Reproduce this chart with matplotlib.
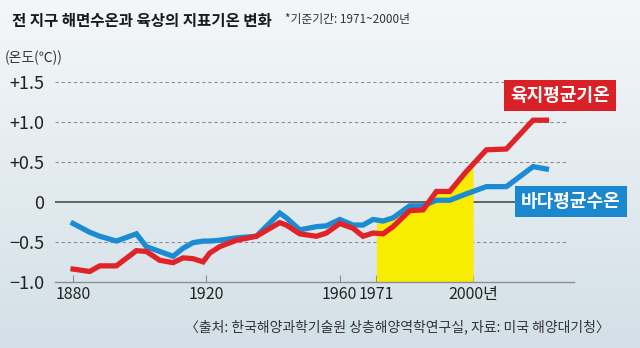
import matplotlib.pyplot as plt
import numpy as np
from matplotlib.colors import LinearSegmentedColormap

plt.rcParams['font.family'] = ['Noto Sans CJK KR', 'DejaVu Sans']

# Data (anomaly vs 1971-2000 mean, degrees C)
years = [1880, 1885, 1888, 1893, 1899, 1902, 1906, 1910, 1913, 1916, 1919,
         1921, 1924, 1929, 1935, 1942, 1944, 1948, 1953, 1956, 1960, 1964,
         1967, 1970, 1973, 1976, 1981, 1985, 1989, 1993, 1998, 2004, 2010,
         2018, 2022]
land = [-0.84, -0.87, -0.80, -0.80, -0.61, -0.62, -0.73, -0.76, -0.70, -0.71, -0.75,
        -0.64, -0.56, -0.48, -0.43, -0.26, -0.29, -0.40, -0.43, -0.39, -0.27, -0.33,
        -0.43, -0.39, -0.40, -0.31, -0.11, -0.10, 0.13, 0.13, 0.38, 0.65, 0.66,
        1.02, 1.02]
sea = [-0.27, -0.38, -0.43, -0.49, -0.40, -0.56, -0.62, -0.68, -0.58, -0.51, -0.49,
       -0.49, -0.48, -0.45, -0.43, -0.14, -0.20, -0.35, -0.31, -0.30, -0.22, -0.29,
       -0.29, -0.22, -0.24, -0.20, -0.05, -0.05, 0.02, 0.02, 0.10, 0.19, 0.19,
       0.44, 0.41]
yticks = [-1.0, -0.5, 0, 0.5, 1.0, 1.5]
ytick_labels = ['\u22121.0', '\u22120.5', '0', '+0.5', '+1.0', '+1.5']
xticks = [1880, 1920, 1960, 1971, 2000]
xtick_labels = ['1880', '1920', '1960', '1971', '2000년']
base_start, base_end = 1971, 2000

red = '#e02328'
blue = '#1b8bd3'

fig = plt.figure(figsize=(6.4, 3.48), dpi=100)

# background gradient
bg = fig.add_axes([0, 0, 1, 1])
grad = np.linspace(0, 1, 256).reshape(-1, 1)
cmap = LinearSegmentedColormap.from_list('bg', ['#f4f7f9', '#d3e0e7'])
bg.imshow(grad, aspect='auto', cmap=cmap, extent=[0, 1, 0, 1])
bg.set_axis_off()

ax = fig.add_axes([0.086, 0.19, 0.811, 0.598])
ax.set_facecolor('none')
x0, x1 = 1874.6, 2030.3
ax.set_xlim(x0, x1)
ax.set_ylim(-1.0, 1.6)

for v in [-0.5, 0.5, 1.0, 1.5]:
    ax.plot([x0, 2027.9], [v, v], ls=(0, (3, 2.5)), color='#8a8f94', lw=0.8, zorder=1)
ax.axhline(0, color='#55595d', lw=1.3, zorder=1)

# yellow base period fill up to the upper line
xf = np.linspace(base_start, base_end, 300)
top = np.maximum(np.interp(xf, years, land), np.interp(xf, years, sea))
ax.fill_between(xf, -1.0, top, color='#f8ec00', lw=0, zorder=2)

ax.plot(years, sea, color=blue, lw=3.8, solid_joinstyle='miter', zorder=3)
ax.plot(years, land, color=red, lw=3.8, solid_joinstyle='miter', zorder=4)

for s in ['top', 'right', 'left']:
    ax.spines[s].set_visible(False)
ax.spines['bottom'].set_color('#8a8f94')
ax.spines['bottom'].set_linewidth(1.0)

ax.set_yticks(yticks)
ax.set_yticklabels(ytick_labels)
ax.tick_params(axis='y', length=0, pad=8, labelsize=13, labelcolor='#222222')
ax.set_xticks(xticks)
ax.set_xticklabels(xtick_labels)
ax.tick_params(axis='x', direction='in', length=5, width=0.8, color='#8a8f94',
               pad=3, labelsize=11.5, labelcolor='#222222')

# legend boxes
fig.text(0.875, 0.725, '육지평균기온', fontsize=13, color='white', fontweight='bold',
         ha='center', va='center',
         bbox=dict(boxstyle='square,pad=0.33', fc='#d92027', ec='none'))
fig.text(0.892, 0.42, '바다평균수온', fontsize=13, color='white', fontweight='bold',
         ha='center', va='center',
         bbox=dict(boxstyle='square,pad=0.33', fc='#1a87cf', ec='none'))

fig.text(0.018, 0.94, '전 지구 해면수온과 육상의 지표기온 변화', fontsize=11.2,
         fontweight='bold', color='#1a1a1a', va='center')
fig.text(0.445, 0.945, '*기준기간: 1971~2000년', fontsize=8.5, color='#333333', va='center')
fig.text(0.008, 0.835, '(온도(℃))', fontsize=10, color='#333333', va='center')
fig.text(0.953, 0.06, '〈출처: 한국해양과학기술원 상층해양역학연구실, 자료: 미국 해양대기청〉',
         fontsize=10, color='#333333', ha='right', va='center')

fig.savefig('out.png', dpi=100)
